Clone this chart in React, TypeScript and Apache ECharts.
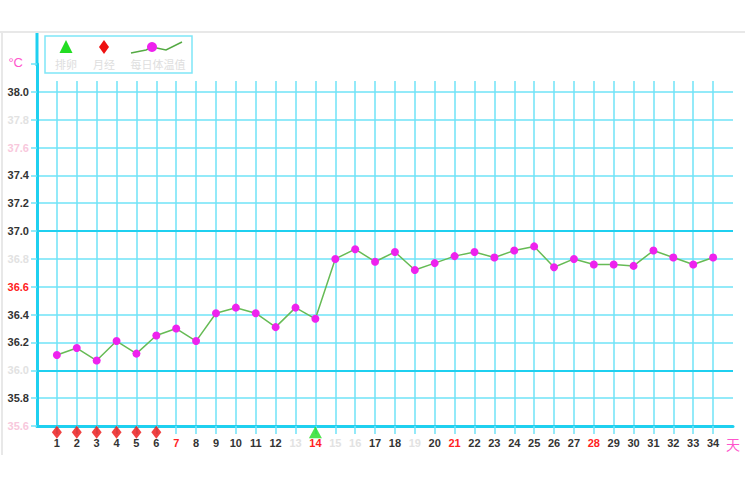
import React, { useEffect, useRef } from "react";
import * as echarts from "echarts";

const dayLabels = ["", "1", "2", "3", "4", "5", "6", "7", "8", "9", "10", "11", "12", "13", "14", "15", "16", "17", "18", "19", "20", "21", "22", "23", "24", "25", "26", "27", "28", "29", "30", "31", "32", "33", "34", "天"];
const tempDays = ["1", "2", "3", "4", "5", "6", "7", "8", "9", "10", "11", "12", "13", "14", "15", "16", "17", "18", "19", "20", "21", "22", "23", "24", "25", "26", "27", "28", "29", "30", "31", "32", "33", "34"];
const temps = [36.11, 36.16, 36.07, 36.21, 36.12, 36.25, 36.30, 36.21, 36.41, 36.45, 36.41, 36.31, 36.45, 36.37, 36.80, 36.87, 36.78, 36.85, 36.72, 36.77, 36.82, 36.85, 36.81, 36.86, 36.89, 36.74, 36.80, 36.76, 36.76, 36.75, 36.86, 36.81, 36.76, 36.81];
const periodDays = ["1", "2", "3", "4", "5", "6"];
const ovulationDays = ["14"];
const markerLevel = 35.555;
const redDays = ["7", "14", "21", "28"];
const fadedDays = ["13", "15", "16", "19"];
const yLabelColors: Record<string, string> = {
  "38.0": "#333333", "37.8": "#e2e2e2", "37.6": "#f8c8dc", "37.4": "#333333", "37.2": "#333333",
  "37.0": "#333333", "36.8": "#e2e2e2", "36.6": "#ff2222", "36.4": "#333333", "36.2": "#333333",
  "36.0": "#e2e2e2", "35.8": "#333333", "35.6": "#f8c8dc",
};
const boldLines = [36.0, 37.0];
const legendNames = ["排卵", "月经", "每日体温值"];

const GRID_C = "#6fe3f7";
const AXIS_C = "#1fd0f0";

export default function App() {
  const ref = useRef<HTMLDivElement>(null);
  useEffect(() => {
    if (!ref.current) return;
    const chart = echarts.init(ref.current, null, { renderer: "svg" });
    const lastIdx = dayLabels.length - 1;
    chart.setOption({
      animation: false,
      backgroundColor: "#ffffff",
      textStyle: { fontFamily: "Liberation Sans, Arial, sans-serif" },
      grid: [
        { left: 37, right: 17, top: 64, bottom: 74 },
        { left: 37, right: 17, top: 81, bottom: 74 },
      ],
      xAxis: [
        {
          type: "category",
          gridIndex: 0,
          data: dayLabels,
          boundaryGap: false,
          axisLine: { show: true, lineStyle: { color: AXIS_C, width: 3 } },
          axisTick: {
            show: true,
            length: 8,
            interval: (i: number) => i > 0 && i < lastIdx,
            lineStyle: { color: GRID_C, width: 1.5 },
          },
          axisLabel: {
            interval: 0,
            margin: 11,
            fontSize: 11,
            fontWeight: "bold",
            formatter: (v: string) => (v === "天" ? "{t|天}" : v),
            rich: { t: { color: "#ff55cc", fontSize: 14, fontWeight: "normal", fontFamily: "Noto Sans CJK SC" } },
            color: (v: string) =>
              v === "天" ? "#ff55cc" : redDays.includes(v) ? "#ff2222" : fadedDays.includes(v) ? "#e2e2e2" : "#333333",
          },
          splitLine: { show: false },
        },
        {
          type: "category",
          gridIndex: 1,
          data: dayLabels,
          boundaryGap: false,
          axisLine: { show: false },
          axisTick: { show: false },
          axisLabel: { show: false },
          splitLine: {
            show: true,
            interval: (i: number) => i > 0 && i < lastIdx,
            lineStyle: { color: GRID_C, width: 1.5 },
          },
        },
      ],
      yAxis: [
        {
          type: "value",
          gridIndex: 0,
          min: 35.6,
          max: 38.2,
          interval: 0.2,
          axisLine: { show: true, lineStyle: { color: AXIS_C, width: 3 } },
          axisTick: { show: true, length: 6, lineStyle: { color: GRID_C, width: 1.5 } },
          axisLabel: {
            margin: 8,
            fontSize: 11,
            fontWeight: "bold",
            formatter: (v: number) => (Math.abs(v - 38.2) < 1e-6 ? "{c|°C}" : v.toFixed(1)),
            color: (v: any) => yLabelColors[Number(v).toFixed(1)] || "#333333",
            rich: { c: { color: "#ff55cc", fontSize: 13, padding: [0, 6, 4, 0], fontWeight: "normal" } },
          },
          splitLine: {
            show: true,
            lineStyle: {
              color: ["transparent", GRID_C, GRID_C, GRID_C, GRID_C, GRID_C, GRID_C, GRID_C, GRID_C, GRID_C, GRID_C, GRID_C, GRID_C, "transparent"],
              width: 1.5,
            },
          },
        },
        {
          type: "value",
          gridIndex: 1,
          show: false,
          min: 0,
          max: 1,
          splitLine: { show: false },
        },
      ],
      graphic: [
        { type: "line", shape: { x1: 0, y1: 32, x2: 745, y2: 32 }, style: { stroke: "#e8e8e8", lineWidth: 2 }, silent: true },
        { type: "line", shape: { x1: 2, y1: 32, x2: 2, y2: 455 }, style: { stroke: "#e8e8e8", lineWidth: 2 }, silent: true },
        { type: "line", shape: { x1: 37, y1: 33, x2: 37, y2: 66 }, style: { stroke: AXIS_C, lineWidth: 3 }, silent: true },
        { type: "rect", shape: { x: 45, y: 36, width: 147, height: 37 }, style: { fill: "#ffffff", stroke: "#7fe6f8", lineWidth: 1.5 }, z: 10 },
        { type: "polygon", shape: { points: [[66, 40], [59.5, 53], [72.5, 53]] }, style: { fill: "#22dd22" }, z: 11 },
        { type: "polygon", shape: { points: [[104, 40], [109, 47], [104, 54], [99, 47]] }, style: { fill: "#ee1111" }, z: 11 },
        { type: "polyline", shape: { points: [[131, 53], [146, 50], [152, 47], [166, 50], [182, 42]] }, style: { stroke: "#55aa44", lineWidth: 1.5, fill: "none" }, z: 11 },
        { type: "circle", shape: { cx: 152, cy: 47, r: 5 }, style: { fill: "#ee22ee" }, z: 12 },
        { type: "text", x: 66, y: 64, style: { text: legendNames[0], fill: "#dedede", fontSize: 11, align: "center", verticalAlign: "middle", fontFamily: "Noto Sans CJK SC" }, z: 11 },
        { type: "text", x: 104, y: 64, style: { text: legendNames[1], fill: "#dedede", fontSize: 11, align: "center", verticalAlign: "middle", fontFamily: "Noto Sans CJK SC" }, z: 11 },
        { type: "text", x: 158, y: 64, style: { text: legendNames[2], fill: "#dedede", fontSize: 11, align: "center", verticalAlign: "middle", fontFamily: "Noto Sans CJK SC" }, z: 11 },
      ],
      series: [
        {
          name: legendNames[2],
          type: "line",
          xAxisIndex: 0,
          yAxisIndex: 0,
          data: tempDays.map((d, i) => [d, temps[i]]),
          symbol: "circle",
          symbolSize: 8,
          showSymbol: true,
          itemStyle: { color: "#ee22ee" },
          lineStyle: { color: "#66bb55", width: 1.5 },
          z: 5,
          markLine: {
            silent: true,
            symbol: "none",
            label: { show: false },
            lineStyle: { color: AXIS_C, width: 2.2, type: "solid" },
            data: boldLines.map((v) => ({ yAxis: v })),
            z: 1,
          },
        },
        {
          name: legendNames[1],
          type: "scatter",
          xAxisIndex: 0,
          yAxisIndex: 0,
          clip: false,
          symbol: "diamond",
          symbolSize: [10, 13],
          itemStyle: { color: "#ee1111" },
          data: periodDays.map((d) => [d, markerLevel]),
          z: 6,
        },
        {
          name: legendNames[0],
          type: "scatter",
          xAxisIndex: 0,
          yAxisIndex: 0,
          clip: false,
          symbol: "triangle",
          symbolSize: [13, 12],
          itemStyle: { color: "#22dd22" },
          data: ovulationDays.map((d) => [d, markerLevel]),
          z: 6,
        },
      ],
    });
    return () => chart.dispose();
  }, []);
  return <div ref={ref} style={{ position: "fixed", left: 0, top: 0, width: 750, height: 500 }} />;
}
